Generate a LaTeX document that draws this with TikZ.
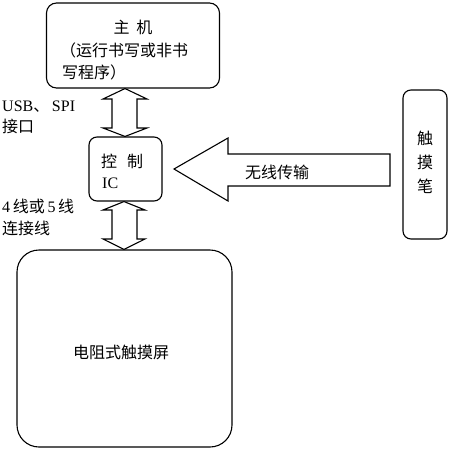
\documentclass[tikz,border=0pt]{standalone}
\usepackage{fontspec}
\setmainfont{Liberation Serif}
\newfontfamily\cjk{Noto Sans CJK SC}
\begin{document}
\begin{tikzpicture}[x=1pt,y=-1pt,
  box/.style={draw,line width=1.1pt,rounded corners=#1,inner sep=0pt},
  txt/.style={inner sep=0pt,font=\fontsize{16}{16}\selectfont},
  blockarrow/.style={draw,line width=1.1pt,line join=miter,fill=white}]
\useasboundingbox (0,0) rectangle (448,450);
% boxes
\node (host) [box=10pt, minimum width=173pt, minimum height=85pt] at (133,45.5) {};
\node (ic) [box=8pt, minimum width=73pt, minimum height=64pt] at (125.5,169) {};
\node (screen) [box=22pt, minimum width=215pt, minimum height=197pt] at (124.5,348.5) {};
\node (pen) [box=8pt, minimum width=44pt, minimum height=149pt] at (425,164.5) {};
% texts
\node (t1) [txt] at (133,27) {\cjk 主\hspace{7pt}机};
\node (t2) [txt,anchor=west] at (60,50) {\cjk （运行书写或非书};
\node (t3) [txt,anchor=west] at (62,72) {\cjk 写程序）};
\node (t4) [txt,anchor=west] at (101,161) {\cjk 控\hspace{10pt}制};
\node (t5) [txt,anchor=west] at (102,183) {IC};
\node (t6) [txt] at (425,138) {\cjk 触};
\node (t7) [txt] at (425,162) {\cjk 摸};
\node (t8) [txt] at (425,186) {\cjk 笔};
\node (t9) [txt] at (121,352) {\cjk 电阻式触摸屏};
\node (l1) [txt,anchor=west] at (2,107) {USB{\cjk 、}\,SPI};
\node (l2) [txt,anchor=west] at (2,126) {\cjk 接口};
\node (l3) [txt,anchor=west] at (2,206) {4\,{\cjk 线或}\,5\,{\cjk 线}};
\node (l4) [txt,anchor=west] at (2,228) {\cjk 连接线};
% double arrow host <-> ic
\draw[blockarrow] (host.south -| 125,0) -- (147,99) -- (137,99) -- (137,128) -- (147,128)
  -- (ic.north -| 125,0) -- (103,128) -- (112,128) -- (112,99) -- (103,99) -- cycle;
% double arrow ic <-> screen
\draw[blockarrow] (ic.south -| 124,0) -- (145,210) -- (137,210) -- (137,239) -- (145,239)
  -- (screen.north -| 124,0) -- (103,239) -- (112,239) -- (112,210) -- (103,210) -- cycle;
% wireless arrow
\draw[blockarrow] (174,169) -- (228,138) -- (228,154) -- (390,154) -- (390,186) -- (228,186) -- (228,201) -- cycle;
\node (t10) [txt] at (277,172) {\cjk 无线传输};
\end{tikzpicture}
\end{document}
